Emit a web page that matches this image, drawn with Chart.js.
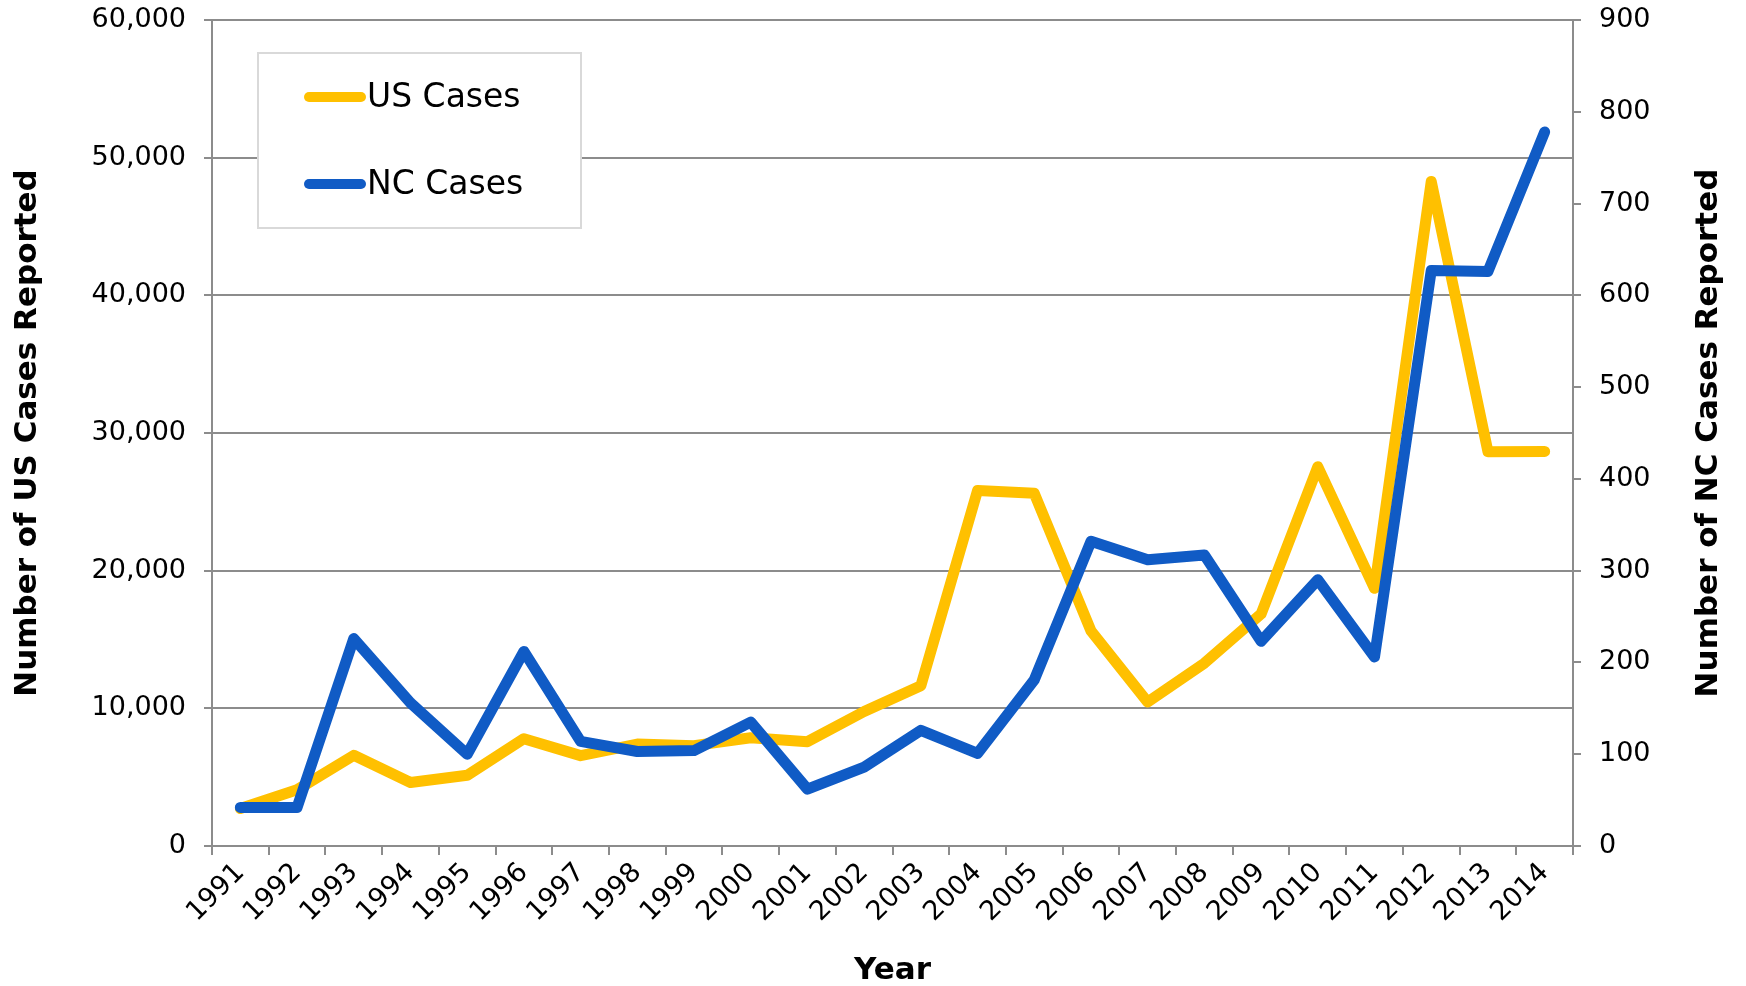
<!DOCTYPE html>
<html lang="en">
<head>
    <meta charset="UTF-8">
    <title>US and NC Cases Reported</title>
    <script src="https://cdn.jsdelivr.net/npm/chart.js"></script>
    <style>
        html, body { margin: 0; padding: 0; background: #fff; }
        #wrap { width: 1746px; height: 986px; }
    </style>
</head>
<body>
<div id="wrap"><canvas id="casesChart" width="1746" height="986"></canvas></div>
<script>
    // data
    const years = ['1991', '1992', '1993', '1994', '1995', '1996', '1997', '1998', '1999', '2000', '2001', '2002',
                   '2003', '2004', '2005', '2006', '2007', '2008', '2009', '2010', '2011', '2012', '2013', '2014'];
    const usCases = [2719, 4083, 6586, 4617, 5137, 7796, 6564, 7405, 7288, 7867, 7580, 9771,
                     11647, 25827, 25616, 15632, 10454, 13278, 16858, 27550, 18719, 48277, 28639, 28660];
    const ncCases = [42, 42, 226, 156, 100, 212, 114, 103, 104, 135, 62, 86,
                     126, 101, 181, 332, 312, 317, 223, 290, 206, 627, 626, 778];
    const seriesNames = ['US Cases', 'NC Cases'];

    const YELLOW = '#FFC000';
    const BLUE = '#105BC5';
    const GRID = '#8C8C8C';

    Chart.defaults.font.family = 'DejaVu Sans';
    Chart.defaults.color = '#000';

    // legend inside the plot and the right-hand title (reads bottom to top)
    const overlay = {
        id: 'overlay',
        afterDraw(chart) {
            const ctx = chart.ctx;
            const area = chart.chartArea;
            const bx = area.left + 46, by = area.top + 33, bw = 323, bh = 175;
            ctx.save();
            ctx.fillStyle = '#fff';
            ctx.fillRect(bx, by, bw, bh);
            ctx.strokeStyle = '#D9D9D9';
            ctx.lineWidth = 2;
            ctx.strokeRect(bx, by, bw, bh);

            const rows = [
                { text: seriesNames[0], color: YELLOW, y: by + 44 },
                { text: seriesNames[1], color: BLUE, y: by + 131 }
            ];
            rows.forEach(r => {
                ctx.beginPath();
                ctx.strokeStyle = r.color;
                ctx.lineWidth = 10;
                ctx.lineCap = 'round';
                ctx.moveTo(bx + 51, r.y);
                ctx.lineTo(bx + 103, r.y);
                ctx.stroke();
                ctx.fillStyle = '#000';
                ctx.font = '33px "DejaVu Sans"';
                ctx.textBaseline = 'middle';
                ctx.textAlign = 'left';
                ctx.fillText(r.text, bx + 109, r.y + 1);
            });

            ctx.translate(1709, (area.top + area.bottom) / 2);
            ctx.rotate(-Math.PI / 2);
            ctx.font = 'bold 31px "DejaVu Sans"';
            ctx.textAlign = 'center';
            ctx.textBaseline = 'middle';
            ctx.fillText('Number of NC Cases Reported', 0, 0);
            ctx.restore();
        }
    };

    // fixed box sizes so the plot area lands where it is in the reference
    function fitY(width) {
        return function (scale) {
            scale.width = width;
            scale.paddingTop = 0;
            scale.paddingBottom = 0;
        };
    }

    new Chart(document.getElementById('casesChart'), {
        type: 'line',
        data: {
            labels: years,
            datasets: [
                {
                    label: seriesNames[0],
                    data: usCases,
                    yAxisID: 'yUS',
                    borderColor: YELLOW,
                    backgroundColor: YELLOW,
                    borderWidth: 11,
                    order: 1
                },
                {
                    label: seriesNames[1],
                    data: ncCases,
                    yAxisID: 'yNC',
                    borderColor: BLUE,
                    backgroundColor: BLUE,
                    borderWidth: 11,
                    order: 0
                }
            ]
        },
        options: {
            responsive: false,
            animation: false,
            layout: { padding: { top: 20, left: 0, right: 0, bottom: 0 } },
            elements: {
                point: { radius: 0, hoverRadius: 0 },
                line: { tension: 0, fill: false, borderCapStyle: 'round', borderJoinStyle: 'round' }
            },
            plugins: {
                legend: { display: false },
                tooltip: { enabled: false }
            },
            scales: {
                x: {
                    type: 'category',
                    offset: true,
                    grid: { offset: true, drawOnChartArea: false, drawTicks: true, tickLength: 9, color: GRID, lineWidth: 2 },
                    border: { color: GRID, width: 2 },
                    ticks: { font: { size: 27 }, minRotation: 45, maxRotation: 45, padding: 2, autoSkip: false },
                    title: { display: true, text: 'Year', font: { size: 31, weight: 'bold' }, padding: { top: 0, bottom: -4 } },
                    afterFit(scale) {
                        scale.height = 140;
                        scale.paddingLeft = 0;
                        scale.paddingRight = 0;
                    }
                },
                yUS: {
                    position: 'left',
                    min: 0,
                    max: 60000,
                    ticks: { stepSize: 10000, font: { size: 27 }, padding: 18 },
                    grid: { color: GRID, lineWidth: 2, tickLength: 8 },
                    border: { color: GRID, width: 2 },
                    title: { display: true, text: 'Number of US Cases Reported', font: { size: 31, weight: 'bold' }, padding: { top: 9, bottom: 0 } },
                    afterFit: fitY(212)
                },
                yNC: {
                    position: 'right',
                    min: 0,
                    max: 900,
                    ticks: { stepSize: 100, font: { size: 27 }, padding: 18 },
                    grid: { drawOnChartArea: false, color: GRID, lineWidth: 2, tickLength: 8 },
                    border: { color: GRID, width: 2 },
                    afterFit: fitY(173)
                }
            }
        },
        plugins: [overlay]
    });
</script>
</body>
</html>
